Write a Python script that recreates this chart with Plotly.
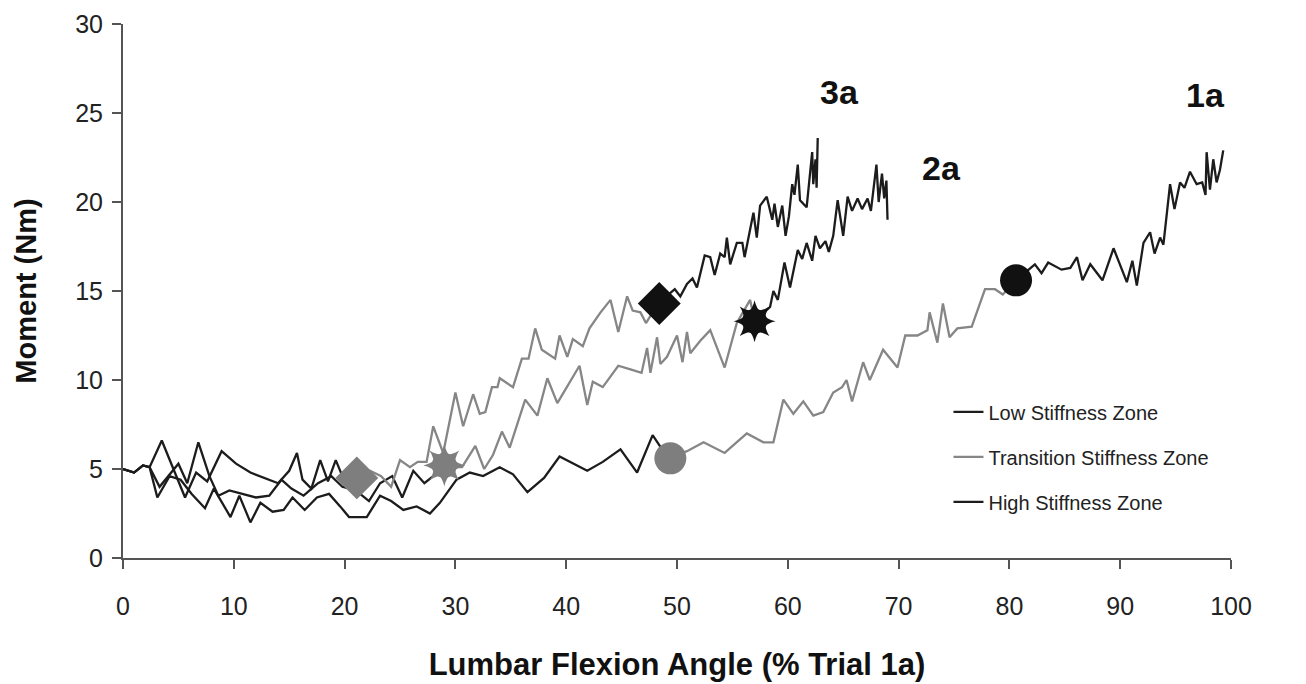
import plotly.graph_objects as go

# ---------------- data ----------------
# Trial 1a
low_1a_x = [0, 1.0, 1.8, 2.4, 3.1, 4.2, 5.2, 6.2, 7.4, 8.2, 9.7, 10.5, 11.5, 12.4, 13.5, 14.5, 15.3, 16.4,
            17.5, 18.6, 19.6, 20.4, 22.0, 23.2, 24.2, 25.3, 26.5, 27.7, 28.6, 30.1, 31.3, 32.5, 34.0, 35.2,
            36.5, 38.0, 39.4, 40.6, 41.9, 43.3, 44.9, 46.4, 47.8, 49.2]
low_1a_y = [5.0, 4.8, 5.2, 5.1, 3.4, 4.6, 4.4, 3.6, 2.8, 3.9, 2.3, 3.5, 2.0, 3.1, 2.6, 2.7, 3.4, 2.7,
            3.4, 3.6, 2.9, 2.3, 2.3, 3.5, 3.2, 2.7, 2.9, 2.5, 3.1, 4.4, 4.8, 4.6, 5.1, 4.7,
            3.7, 4.5, 5.7, 5.3, 4.9, 5.4, 6.1, 4.8, 6.9, 5.6]
trans_1a_x = [49.2, 50.9, 52.4, 54.3, 56.3, 57.8, 58.7, 59.6, 60.5, 61.4, 62.3, 63.2, 64.1, 64.9, 65.3, 65.8,
              66.8, 67.4, 68.6, 69.9, 70.6, 71.7, 72.6, 72.8, 73.5, 74.0, 74.6, 75.3, 76.6, 77.8, 78.7,
              79.4, 80.6]
trans_1a_y = [5.6, 6.0, 6.5, 5.9, 7.0, 6.5, 6.5, 8.9, 8.1, 8.8, 8.0, 8.2, 9.3, 9.6, 10.0, 8.8,
              11.0, 10.0, 11.7, 10.7, 12.5, 12.5, 12.8, 13.8, 12.1, 14.3, 12.4, 12.9, 13.0, 15.1, 15.1,
              14.8, 15.6]
high_1a_x = [80.6, 82.3, 82.9, 83.5, 84.7, 85.5, 86.1, 86.6, 87.3, 88.4, 89.4, 90.6, 91.1, 91.5, 92.1, 92.7,
             93.1, 93.6, 93.9, 94.5, 94.9, 95.4, 95.8, 96.3, 96.9, 97.4, 97.7, 97.8, 98.1, 98.4, 98.7,
             99.0, 99.3]
high_1a_y = [15.6, 16.5, 16.0, 16.6, 16.2, 16.3, 16.9, 15.6, 16.5, 15.6, 17.4, 15.5, 16.7, 15.3, 17.7, 18.3,
             17.1, 18.0, 17.6, 21.0, 19.6, 21.1, 20.8, 21.7, 21.0, 21.1, 20.4, 22.8, 20.7, 22.4, 21.1,
             21.8, 22.9]

# Trial 2a
low_2a_x = [0, 1.0, 1.8, 2.4, 3.3, 4.2, 5.0, 5.8, 6.8, 7.8, 8.6, 9.6, 10.8, 12.0, 13.2, 14.3, 15.2, 16.3,
            17.6, 18.8, 19.8, 21.0, 22.2, 23.2, 24.3, 25.2, 26.2, 27.2, 28.0, 28.9]
low_2a_y = [5.0, 4.8, 5.2, 5.1, 4.0, 4.7, 5.3, 4.2, 6.5, 4.6, 3.5, 3.8, 3.6, 3.4, 3.5, 4.4, 3.9, 3.5,
            4.2, 4.6, 4.0, 3.8, 3.2, 4.2, 4.6, 3.4, 4.9, 4.2, 4.6, 5.1]
trans_2a_x = [28.9, 30.6, 31.8, 32.6, 33.4, 34.2, 34.9, 36.3, 37.4, 38.3, 39.2, 40.6, 41.2, 41.9, 42.4, 43.3,
              44.7, 45.8, 46.8, 47.3, 47.6, 48.2, 48.5, 49.1, 50.0, 50.5, 50.9, 51.2, 52.1, 53.0, 54.3,
              55.4, 56.6, 57.0]
trans_2a_y = [5.1, 5.1, 6.3, 5.0, 5.8, 7.1, 6.2, 8.9, 8.0, 10.1, 8.7, 10.2, 10.8, 8.6, 9.9, 9.6,
              10.8, 10.6, 10.4, 11.8, 10.4, 12.4, 10.9, 11.3, 12.5, 11.0, 12.7, 11.5, 12.2, 12.8, 10.7,
              13.2, 14.5, 13.3]
high_2a_x = [57.0, 58.4, 58.7, 59.1, 59.7, 60.2, 60.9, 61.3, 61.7, 62.2, 62.5, 62.9, 63.4, 63.7, 64.1, 64.5,
             65.0, 65.4, 65.8, 66.3, 66.7, 67.2, 67.5, 68.0, 68.2, 68.5, 68.7, 68.9, 69.0]
high_2a_y = [13.3, 14.1, 15.0, 14.5, 16.6, 15.2, 17.3, 16.8, 17.7, 16.7, 18.1, 17.4, 17.8, 17.2, 18.1, 20.1,
             18.1, 20.3, 19.5, 20.2, 19.6, 20.2, 19.5, 22.1, 20.0, 21.6, 20.2, 21.2, 19.0]

# Trial 3a
low_3a_x = [0, 1.0, 1.8, 2.4, 3.5, 4.4, 5.6, 6.6, 7.6, 8.9, 10.2, 11.5, 12.8, 14.0, 15.0, 15.7, 16.2, 17.0,
            17.8, 18.5, 19.2, 19.8, 20.4, 21.1]
low_3a_y = [5.0, 4.8, 5.2, 5.1, 6.6, 5.2, 3.4, 4.8, 4.3, 6.0, 5.3, 4.8, 4.5, 4.2, 4.9, 5.9, 4.4, 3.9,
            5.5, 4.3, 5.5, 4.6, 4.3, 4.5]
trans_3a_x = [21.1, 22.3, 23.3, 24.2, 25.0, 25.9, 26.6, 27.4, 28.0, 28.9, 30.0, 30.7, 31.6, 32.2, 32.7, 33.3,
              33.8, 34.0, 35.2, 36.0, 36.6, 37.2, 37.8, 39.0, 39.4, 40.1, 40.6, 41.5, 42.1, 43.1, 44.0,
              44.7, 45.5, 46.0, 46.7, 47.2, 48.3]
trans_3a_y = [4.5, 4.9, 4.6, 4.0, 5.5, 5.1, 5.4, 5.4, 7.4, 5.9, 9.3, 7.4, 9.2, 8.1, 8.2, 9.6,
              9.6, 10.1, 9.6, 11.2, 11.2, 12.9, 11.7, 11.2, 12.5, 11.3, 12.3, 11.9, 12.9, 13.8, 14.5,
              12.7, 14.7, 13.9, 13.8, 13.2, 14.3]
high_3a_x = [48.3, 49.8, 50.3, 50.9, 51.4, 51.8, 52.5, 53.0, 53.4, 53.9, 54.3, 54.5, 54.8, 55.4, 55.9, 56.1,
             56.9, 57.2, 57.5, 58.1, 58.6, 58.8, 59.1, 59.5, 59.8, 60.1, 60.4, 60.6, 60.9, 61.1, 61.7,
             62.2, 62.3, 62.5, 62.6, 62.7]
high_3a_y = [14.3, 15.1, 14.7, 15.4, 15.7, 15.2, 17.0, 16.9, 15.9, 17.1, 16.9, 18.0, 16.5, 17.7, 17.7, 16.9,
             19.4, 18.0, 19.8, 20.3, 19.0, 19.9, 18.6, 19.8, 18.1, 19.2, 21.0, 20.4, 22.1, 20.1, 19.7,
             22.8, 21.0, 22.4, 20.8, 23.6]

# zone-change markers (low->transition in gray, transition->high in black): 3a, 2a, 1a
gray_mark_x = [21.1, 29.0, 49.4]
gray_mark_y = [4.5, 5.2, 5.6]
black_mark_x = [48.4, 57.0, 80.6]
black_mark_y = [14.3, 13.3, 15.6]
mark_symbols = ["diamond", "circle", "circle"]

# curve labels
label_text = ["3a", "2a", "1a"]
label_x = [64.7, 73.9, 97.7]
label_y = [26.2, 21.9, 26.0]

zone_names = ["Low Stiffness Zone", "Transition Stiffness Zone", "High Stiffness Zone"]

# ---------------- figure ----------------
FONT = "Liberation Sans, Arial, sans-serif"
BLACK = "#1c1c1c"
GRAY = "#868686"
MGRAY = "#7e7e7e"

fig = go.Figure()

zones = [
    ("low", zone_names[0], BLACK, [(low_1a_x, low_1a_y), (low_2a_x, low_2a_y), (low_3a_x, low_3a_y)]),
    ("trans", zone_names[1], GRAY, [(trans_1a_x, trans_1a_y), (trans_2a_x, trans_2a_y), (trans_3a_x, trans_3a_y)]),
    ("high", zone_names[2], BLACK, [(high_1a_x, high_1a_y), (high_2a_x, high_2a_y), (high_3a_x, high_3a_y)]),
]
for grp, name, col, curves in zones:
    for i, (xs, ys) in enumerate(curves):
        fig.add_trace(go.Scatter(
            x=xs, y=ys, mode="lines", name=name, legendgroup=grp,
            showlegend=(i == 0), line=dict(color=col, width=2.3), hoverinfo="skip"))

sizes = [33, 25, 32]
for mx, my, col in [(gray_mark_x, gray_mark_y, MGRAY), (black_mark_x, black_mark_y, "#111111")]:
    fig.add_trace(go.Scatter(
        x=mx, y=my, mode="markers", showlegend=False, hoverinfo="skip",
        marker=dict(symbol=mark_symbols, size=sizes, color=col, opacity=1, line=dict(width=0))))
    # star burst: two rotated 4-point stars over the small disc -> 8 points
    for ang in (0, 45):
        fig.add_trace(go.Scatter(
            x=[mx[1]], y=[my[1]], mode="markers", showlegend=False, hoverinfo="skip",
            marker=dict(symbol="star-square", size=27, angle=ang, color=col, opacity=1,
                        line=dict(width=0))))

for t, x, y in zip(label_text, label_x, label_y):
    fig.add_annotation(x=x, y=y, text="<b>%s</b>" % t, showarrow=False,
                       font=dict(family=FONT, size=34, color="#111111"))

fig.update_layout(
    width=1306, height=684,
    margin=dict(l=123, r=75, t=24, b=126),
    paper_bgcolor="white", plot_bgcolor="white",
    font=dict(family=FONT, color="#222222"),
    legend=dict(x=0.745, y=0.31, xanchor="left", yanchor="top",
                font=dict(family=FONT, size=20, color="#222222"),
                bgcolor="rgba(0,0,0,0)", traceorder="grouped", tracegroupgap=16),
    xaxis=dict(range=[0, 100], tickmode="linear", tick0=0, dtick=10, automargin=False,
               showgrid=False, zeroline=False, showline=True, linecolor="#555555", linewidth=2,
               ticks="outside", ticklen=9, tickcolor="#555555", tickwidth=1.5,
               ticklabelstandoff=16,
               tickfont=dict(family=FONT, size=25, color="#222222"),
               title=dict(text="<b>Lumbar Flexion Angle (% Trial 1a)</b>",
                          font=dict(family=FONT, size=31, color="#111111"), standoff=34)),
    yaxis=dict(range=[0, 30], tickmode="linear", tick0=0, dtick=5, automargin=False,
               showgrid=False, zeroline=False, showline=True, linecolor="#555555", linewidth=2,
               ticks="outside", ticklen=9, tickcolor="#555555", tickwidth=1.5,
               ticklabelstandoff=4,
               tickfont=dict(family=FONT, size=25, color="#222222"),
               title=dict(text="<b>Moment (Nm)</b>",
                          font=dict(family=FONT, size=29, color="#111111"), standoff=30)),
)

fig.write_html("out.html")
